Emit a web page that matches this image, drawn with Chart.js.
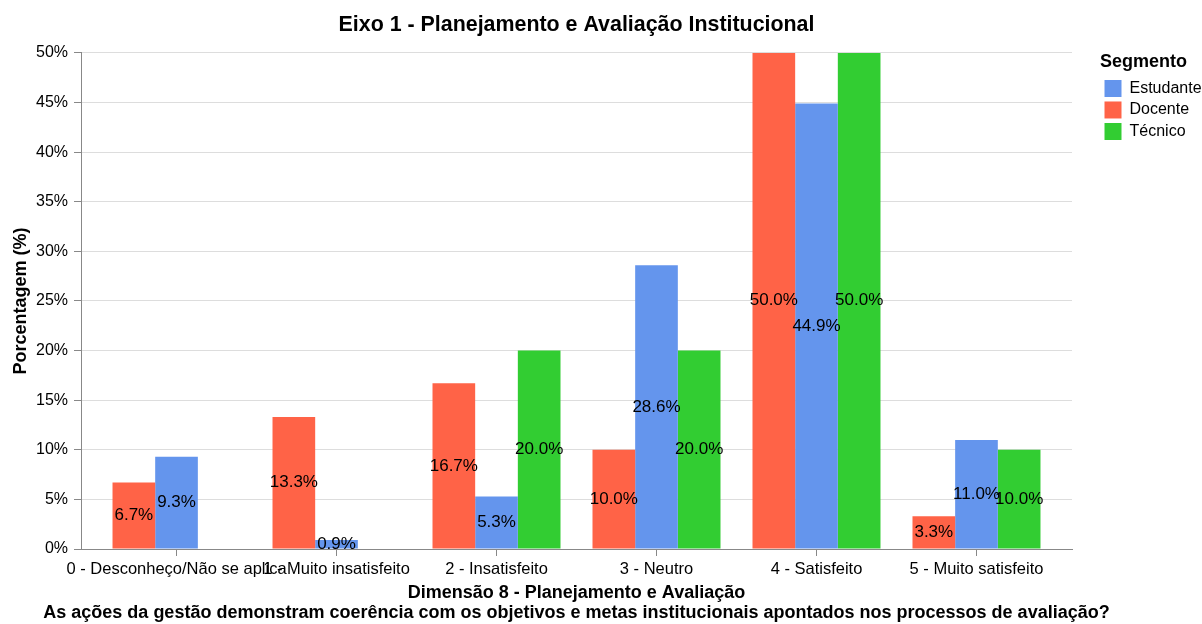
<!DOCTYPE html>
<html>
<head>
<meta charset="utf-8">
<script src="https://cdn.jsdelivr.net/npm/chart.js@4"></script>
<style>
  html, body { margin: 0; padding: 0; background: #fff; }
  #wrap { width: 1202px; height: 624px; }
</style>
</head>
<body>
<div id="wrap"><canvas id="chart"></canvas></div>
<script>
// categories on the x axis
const categories = [
  "0 - Desconheço/Não se aplica",
  "1 - Muito insatisfeito",
  "2 - Insatisfeito",
  "3 - Neutro",
  "4 - Satisfeito",
  "5 - Muito satisfeito"
];

// percentages per segment (null = no answer in that group)
const docente = [6.7, 13.3, 16.7, 10.0, 50.0, 3.3];
const estudante = [9.3, 0.9, 5.3, 28.6, 44.9, 11.0];
const tecnico = [null, null, 20.0, 20.0, 50.0, 10.0];

const yTicks = [0, 5, 10, 15, 20, 25, 30, 35, 40, 45, 50];

// legend order differs from bar order
const legendOrder = ["Estudante", "Docente", "Técnico"];

// x axis title, two lines
const xTitle = [
  'Dimensão 8 - Planejamento e Avaliação',
  'As ações da gestão demonstram coerência com os objetivos e metas institucionais apontados nos processos de avaliação?'
];

const FONT = "'Liberation Sans', Arial, sans-serif";
Chart.defaults.font.family = FONT;
Chart.defaults.color = '#000';

const toPoints = arr => arr.map((v, i) => ({ x: i, y: v }));

// draws the value in the middle of each bar
const barLabels = {
  id: 'barLabels',
  afterDatasetsDraw(chart) {
    const ctx = chart.ctx;
    ctx.save();
    ctx.font = '17px ' + FONT;
    ctx.fillStyle = '#000';
    ctx.textAlign = 'center';
    ctx.textBaseline = 'middle';
    chart.data.datasets.forEach((ds, di) => {
      const meta = chart.getDatasetMeta(di);
      meta.data.forEach((bar, i) => {
        const v = ds.data[i].y;
        if (v == null) return;
        ctx.fillText(v.toFixed(1) + '%', bar.x, (bar.y + bar.base) / 2);
      });
    });
    ctx.restore();
  }
};

// x title drawn by hand so the long line is not squeezed to the axis width
const xTitlePlugin = {
  id: 'xTitlePlugin',
  afterDraw(chart) {
    const ctx = chart.ctx;
    const sx = chart.scales.x;
    const cx = (sx.left + sx.right) / 2;
    ctx.save();
    ctx.font = 'bold 18px ' + FONT;
    ctx.fillStyle = '#000';
    ctx.textAlign = 'center';
    ctx.textBaseline = 'middle';
    ctx.fillText(xTitle[0], cx, sx.bottom - 31.25);
    ctx.fillText(xTitle[1], cx, sx.bottom - 10.75);
    ctx.restore();
  }
};

// keep the legend narrow and nudge it to the right
const legendFit = {
  id: 'legendFit',
  beforeInit(chart) {
    const lg = chart.legend;
    if (!lg) return;
    const orig = lg.fit.bind(lg);
    lg.fit = function () {
      orig();
      this.width = 130;
    };
  },
  afterLayout(chart) {
    const lg = chart.legend;
    if (!lg) return;
    lg.left += 28;
    lg.right += 28;
  }
};

new Chart(document.getElementById('chart'), {
  type: 'bar',
  data: {
    datasets: [
      { label: 'Docente', data: toPoints(docente), backgroundColor: '#ff6347' },
      { label: 'Estudante', data: toPoints(estudante), backgroundColor: '#6495ed' },
      { label: 'Técnico', data: toPoints(tecnico), backgroundColor: '#32cd32' }
    ]
  },
  options: {
    responsive: true,
    maintainAspectRatio: false,
    animation: false,
    events: [],
    layout: { padding: 0 },
    datasets: {
      bar: { categoryPercentage: 0.8, barPercentage: 1.0 }
    },
    scales: {
      x: {
        type: 'linear',
        min: -0.597,
        max: 5.597,
        offset: false,
        afterBuildTicks(scale) {
          scale.ticks = categories.map((_, i) => ({ value: i }));
        },
        afterFit(scale) { scale.height = 75; },
        ticks: {
          autoSkip: false,
          maxRotation: 0,
          minRotation: 0,
          padding: 4,
          font: { size: 16.5 },
          color: '#000',
          callback: v => categories[v]
        },
        grid: { offset: false, drawOnChartArea: false, tickLength: 7, tickColor: '#888' },
        border: { color: '#888', width: 1 },
        title: { display: false }
      },
      y: {
        min: 0,
        max: 50,
        afterBuildTicks(scale) {
          scale.ticks = yTicks.map(v => ({ value: v }));
        },
        afterFit(scale) { scale.width = 81; },
        ticks: {
          padding: 6,
          font: { size: 16 },
          color: '#000',
          callback: v => v + '%'
        },
        grid: { color: '#ddd', tickLength: 7, tickColor: '#888' },
        border: { color: '#888', width: 1 },
        title: {
          display: true,
          text: 'Porcentagem (%)',
          font: { size: 18, weight: 'bold' },
          color: '#000',
          padding: { top: 10, bottom: 0 }
        }
      }
    },
    plugins: {
      tooltip: { enabled: false },
      title: {
        display: true,
        text: 'Eixo 1 - Planejamento e Avaliação Institucional',
        fullSize: false,
        font: { size: 21.4, weight: 'bold', lineHeight: 1.2 },
        color: '#000',
        padding: { top: 12.6, bottom: 14.7 }
      },
      legend: {
        position: 'right',
        align: 'start',
        fullSize: false,
        title: {
          display: true,
          text: 'Segmento',
          position: 'start',
          font: { size: 18, weight: 'bold', lineHeight: 1.2 },
          color: '#000',
          padding: { top: 0, bottom: 0.9 }
        },
        labels: {
          boxWidth: 17,
          boxHeight: 17,
          padding: 4.5,
          font: { size: 16 },
          color: '#000',
          sort: (a, b) => legendOrder.indexOf(a.text) - legendOrder.indexOf(b.text)
        }
      }
    }
  },
  plugins: [barLabels, xTitlePlugin, legendFit]
});
</script>
</body>
</html>
